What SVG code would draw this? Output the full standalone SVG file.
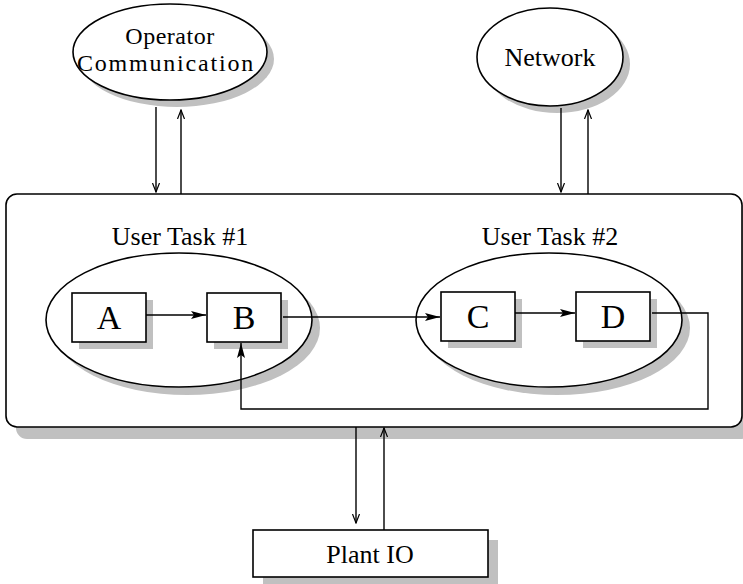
<svg xmlns="http://www.w3.org/2000/svg" width="743" height="584" viewBox="0 0 743 584">
<style>
.sh{fill:#c0c0c0;stroke:none}
.nd{fill:#fff;stroke:#000;stroke-width:1.6}
.ln{fill:none;stroke:#000;stroke-width:1.4}
text{font-family:"Liberation Serif","Times New Roman",serif;fill:#000;text-anchor:middle}
.t{font-size:26px}
.op{font-size:24px}
.big{font-size:34px}
</style>
<defs>
<marker id="open" markerWidth="10" markerHeight="14" refX="9" refY="5" orient="auto" markerUnits="userSpaceOnUse" viewBox="0 0 10 10">
<path d="M0,1.5 L9,5 L0,8.5" fill="none" stroke="#000" stroke-width="1.2"/>
</marker>
<marker id="fill" markerWidth="16" markerHeight="10" refX="15" refY="5" orient="auto" markerUnits="userSpaceOnUse" viewBox="0 0 16 10">
<path d="M0,1 L15,5 L0,9 L3,5 Z" fill="#000"/>
</marker>
</defs>
<g id="main">
<rect class="sh" x="16" y="205" width="736" height="234" rx="11"/>
<rect class="nd" x="6" y="194" width="736" height="233" rx="11"/>
</g>
<g id="operator">
<ellipse class="sh" cx="177" cy="59" rx="97" ry="48"/>
<ellipse class="nd" cx="170" cy="52" rx="97" ry="48"/>
<text class="op" x="170" y="44" letter-spacing="0.5">Operator</text>
<text class="op" x="166" y="71" letter-spacing="1.8">Communication</text>
</g>
<g id="network">
<ellipse class="sh" cx="557" cy="64" rx="73" ry="49"/>
<ellipse class="nd" cx="550" cy="57" rx="73" ry="49"/>
<text class="t" x="550" y="66">Network</text>
</g>
<g id="plantio">
<rect class="sh" x="263" y="540" width="235" height="47"/>
<rect class="nd" x="253" y="530" width="235" height="47"/>
<text class="t" x="370" y="563">Plant IO</text>
</g>
<g id="task1">
<text class="t" x="180" y="245">User Task #1</text>
<ellipse class="sh" cx="187" cy="328" rx="133" ry="67"/>
<ellipse class="nd" cx="179" cy="320" rx="133" ry="67"/>
</g>
<g id="task2">
<text class="t" x="550" y="245">User Task #2</text>
<ellipse class="sh" cx="557" cy="328" rx="133" ry="67"/>
<ellipse class="nd" cx="549" cy="320" rx="133" ry="67"/>
</g>
<g id="A">
<rect class="sh" x="79" y="300" width="74" height="49"/>
<rect class="nd" x="72" y="293" width="74" height="49"/>
<text class="big" x="109" y="329">A</text>
</g>
<g id="B">
<rect class="sh" x="214" y="300" width="74" height="49"/>
<rect class="nd" x="207" y="293" width="74" height="49"/>
<text class="big" x="244" y="329">B</text>
</g>
<g id="C">
<rect class="sh" x="448" y="299" width="74" height="49"/>
<rect class="nd" x="441" y="292" width="74" height="49"/>
<text class="big" x="478" y="328">C</text>
</g>
<g id="D">
<rect class="sh" x="583" y="299" width="74" height="49"/>
<rect class="nd" x="576" y="292" width="74" height="49"/>
<text class="big" x="613" y="328">D</text>
</g>
<g id="connectors">
<line class="ln" x1="156" y1="107" x2="156" y2="192" marker-end="url(#open)"/>
<line class="ln" x1="181" y1="194" x2="181" y2="110" marker-end="url(#open)"/>
<line class="ln" x1="561" y1="108" x2="561" y2="192" marker-end="url(#open)"/>
<line class="ln" x1="588" y1="194" x2="588" y2="110" marker-end="url(#open)"/>
<line class="ln" x1="356" y1="427" x2="356" y2="523" marker-end="url(#open)"/>
<line class="ln" x1="384" y1="530" x2="384" y2="428" marker-end="url(#open)"/>
<line class="ln" x1="146" y1="315" x2="206" y2="315" marker-end="url(#fill)"/>
<line class="ln" x1="283" y1="317" x2="440" y2="317" marker-end="url(#fill)"/>
<line class="ln" x1="515" y1="313" x2="575" y2="313" marker-end="url(#fill)"/>
<polyline class="ln" points="652,313 708,313 708,409 241,409 241,343" marker-end="url(#fill)"/>
</g>
</svg>
